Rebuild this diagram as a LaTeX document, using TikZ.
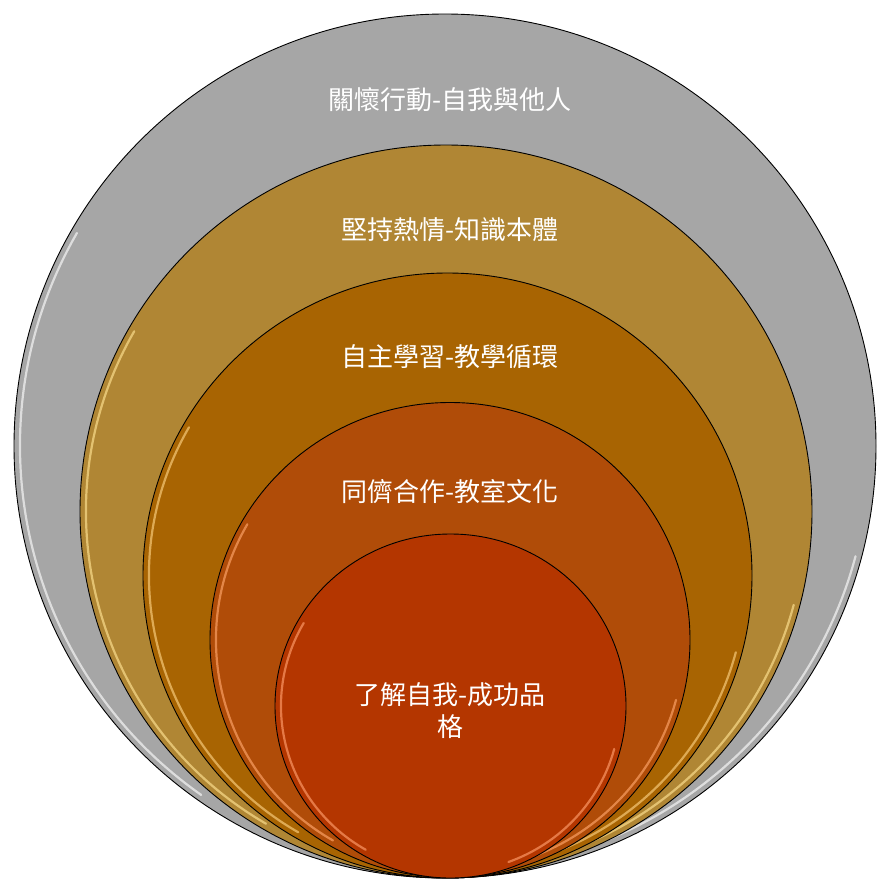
\documentclass[tikz,border=0pt]{standalone}
\usepackage{fontspec}
\newfontfamily\cjk{Noto Sans CJK TC}
\definecolor{cA}{RGB}{166,166,166}
\definecolor{cB}{RGB}{176,134,52}
\definecolor{cC}{RGB}{168,100,2}
\definecolor{cD}{RGB}{176,76,8}
\definecolor{cE}{RGB}{180,54,0}
\definecolor{hA}{RGB}{245,245,245}
\definecolor{hB}{RGB}{250,220,140}
\definecolor{hC}{RGB}{245,200,120}
\definecolor{hD}{RGB}{250,160,100}
\definecolor{hE}{RGB}{250,150,100}
\tikzset{
  ring/.style={draw=black, line width=0.9pt},
  glint/.style={line width=2.2pt, opacity=0.7, line cap=round},
  lbl/.style={text=white, font=\cjk\fontsize{26}{32}\selectfont, align=center, inner sep=0pt}
}
\begin{document}
\begin{tikzpicture}[x=1pt,y=-1pt]
\useasboundingbox (0,0) rectangle (877,881);
% outer
\fill[cA] (445,446) ellipse [x radius=431pt, y radius=432pt];
\draw[hA,glint] (445,446) ++(150:425pt and 426pt) arc [start angle=150, end angle=235, x radius=425pt, y radius=426pt];
\draw[hA,glint] (445,446) ++(290:425pt and 426pt) arc [start angle=290, end angle=345, x radius=425pt, y radius=426pt];
\draw[ring] (445,446) ellipse [x radius=431pt, y radius=432pt];
% second
\fill[cB] (446,511.5) ellipse [x radius=366pt, y radius=366.5pt];
\draw[hB,glint] (446,511.5) ++(150:360pt and 360.5pt) arc [start angle=150, end angle=240, x radius=360pt, y radius=360.5pt];
\draw[hB,glint] (446,511.5) ++(290:360pt and 360.5pt) arc [start angle=290, end angle=345, x radius=360pt, y radius=360.5pt];
\draw[ring] (446,511.5) ellipse [x radius=366pt, y radius=366.5pt];
% third
\fill[cC] (447.5,575.5) ellipse [x radius=304.5pt, y radius=302.5pt];
\draw[hC,glint] (447.5,575.5) ++(150:298.5pt and 296.5pt) arc [start angle=150, end angle=240, x radius=298.5pt, y radius=296.5pt];
\draw[hC,glint] (447.5,575.5) ++(290:298.5pt and 296.5pt) arc [start angle=290, end angle=345, x radius=298.5pt, y radius=296.5pt];
\draw[ring] (447.5,575.5) ellipse [x radius=304.5pt, y radius=302.5pt];
% fourth
\fill[cD] (450,640) ellipse [x radius=240pt, y radius=237.5pt];
\draw[hD,glint] (450,640) ++(150:234pt and 231.5pt) arc [start angle=150, end angle=240, x radius=234pt, y radius=231.5pt];
\draw[hD,glint] (450,640) ++(290:234pt and 231.5pt) arc [start angle=290, end angle=345, x radius=234pt, y radius=231.5pt];
\draw[ring] (450,640) ellipse [x radius=240pt, y radius=237.5pt];
% fifth
\fill[cE] (450.5,706) ellipse [x radius=175.5pt, y radius=172pt];
\draw[hE,glint] (450.5,706) ++(150:169.5pt and 166pt) arc [start angle=150, end angle=240, x radius=169.5pt, y radius=166pt];
\draw[hE,glint] (450.5,706) ++(290:169.5pt and 166pt) arc [start angle=290, end angle=345, x radius=169.5pt, y radius=166pt];
\draw[ring] (450.5,706) ellipse [x radius=175.5pt, y radius=172pt];
% labels
\node[lbl] (t1) at (450,100) {關懷行動-自我與他人};
\node[lbl] (t2) at (450,230) {堅持熱情-知識本體};
\node[lbl] (t3) at (450,357) {自主學習-教學循環};
\node[lbl] (t4) at (450,492) {同儕合作-教室文化};
\node[lbl] (t5) at (450,711) {了解自我-成功品\\格};
\end{tikzpicture}
\end{document}
